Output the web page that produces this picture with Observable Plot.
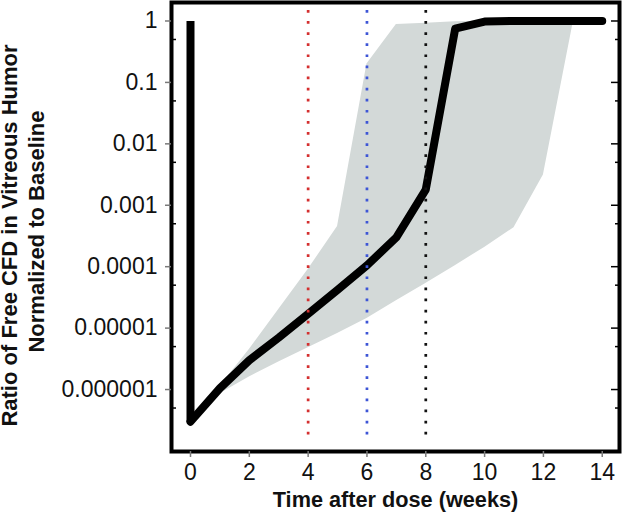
<!DOCTYPE html>
<html>
<head>
<meta charset="utf-8">
<script src="https://cdn.jsdelivr.net/npm/d3@7"></script>
<script src="https://cdn.jsdelivr.net/npm/@observablehq/plot@0.6"></script>
<style>
  html, body { margin: 0; padding: 0; background: #fff; }
  #chart { width: 622px; height: 513px; }
</style>
</head>
<body>
<div id="chart"></div>
<script>
// ---- data ----
const xTicks = [0, 2, 4, 6, 8, 10, 12, 14];
const yTicks = [1e-6, 1e-5, 1e-4, 1e-3, 0.01, 0.1, 1];
const yTickLabels = ["0.000001", "0.00001", "0.0001", "0.001", "0.01", "0.1", "1"];
const yMinorTicks = [5e-7, 5e-6, 5e-5, 5e-4, 5e-3, 0.05, 0.5];

// median ratio (black line)
const lineWeeks = [0, 0, 1, 2, 3, 4, 5, 6, 7, 8, 9, 10, 11, 12, 13, 14];
const lineRatio = [1, 3e-7, 1.05e-6, 3e-6, 7e-6, 1.7e-5, 4.2e-5, 1.05e-4, 3e-4, 1.8e-3, 0.75, 0.98, 1, 1, 1, 1];

// spread band (grey)
const bandWeeks = [1, 2, 3, 4, 5, 6, 7, 8, 9, 10, 11, 12, 13];
const bandLow  = [8.5e-7, 1.6e-6, 2.8e-6, 4.8e-6, 8.2e-6, 1.43e-5, 2.8e-5, 5.3e-5, 1.04e-4, 2.06e-4, 4.3e-4, 3.1e-3, 0.88];
const bandHigh = [1.12e-6, 4.5e-6, 2e-5, 9e-5, 4.5e-4, 0.2, 0.88, 0.92, 0.97, 0.99, 0.99, 0.99, 0.99];

// dotted reference weeks
const markerWeeks = [4, 6, 8];
const markerNames = ["red", "blue", "black"];

const xTitle = "Time after dose (weeks)";
const yTitle1 = "Ratio of Free CFD in Vitreous Humor";
const yTitle2 = "Normalized to Baseline";

// ---- build tables ----
const lineRows = lineWeeks.map((w, i) => ({week: w, ratio: lineRatio[i]}));
const bandRows = bandWeeks.map((w, i) => ({week: w, lo: bandLow[i], hi: bandHigh[i]}));
const markerRows = markerWeeks.map((w, i) => ({week: w, name: markerNames[i]}));
const markerColor = {red: "#d42f2f", blue: "#3d55d6", black: "#111111"};

const font = "'Liberation Sans', Arial, Helvetica, sans-serif";

const chart = Plot.plot({
  width: 622,
  height: 513,
  marginLeft: 171,
  marginRight: 3,
  marginTop: 2,
  marginBottom: 62,
  style: {fontFamily: font, fontSize: "22px", color: "#111", background: "#fff"},
  x: {domain: [-0.646, 14.587], label: null},
  y: {type: "log", domain: [9.8e-8, 2.0], label: null},
  marks: [
    Plot.areaY(bandRows, {x: "week", y1: "lo", y2: "hi", fill: "#d3d9d8"}),
    Plot.line(lineRows.slice(0, 2), {x: "week", y: "ratio", stroke: "#000", strokeWidth: 8, strokeLinecap: "butt", strokeLinejoin: "round"}),
    Plot.line(lineRows.slice(1), {x: "week", y: "ratio", stroke: "#000", strokeWidth: 8, strokeLinecap: "round", strokeLinejoin: "round"}),
    Plot.ruleX(markerRows, {x: "week", stroke: d => markerColor[d.name], strokeWidth: 2.7, strokeDasharray: "2.7 8.4", insetTop: 8, insetBottom: 10}),
    Plot.frame({stroke: "#000", strokeWidth: 4}),
    Plot.axisY(yTicks, {anchor: "left", tickSize: 6, tickPadding: 8, stroke: "#7a7a7a", strokeWidth: 1.5, fill: "#111", fontSize: 23, label: null,
      tickFormat: d => yTickLabels[yTicks.indexOf(d)]}),
    Plot.axisY(yMinorTicks, {anchor: "left", tickSize: -5, stroke: "#000", strokeWidth: 1.5, tickFormat: () => "", label: null}),
    Plot.axisY(yTicks, {anchor: "right", tickSize: -9, stroke: "#000", strokeWidth: 1.5, tickFormat: () => "", label: null}),
    Plot.axisY(yMinorTicks, {anchor: "right", tickSize: -5, stroke: "#000", strokeWidth: 1.5, tickFormat: () => "", label: null}),
    Plot.axisX(xTicks, {anchor: "bottom", tickSize: 6, tickPadding: 6, stroke: "#7a7a7a", strokeWidth: 1.5, fill: "#111", fontSize: 23, label: null}),
    Plot.text([xTitle], {frameAnchor: "bottom", textAnchor: "middle", lineAnchor: "middle", dy: 49, fontWeight: "bold", fontSize: 21.7, fill: "#111"}),
    Plot.text([yTitle1], {frameAnchor: "left", textAnchor: "middle", lineAnchor: "middle", rotate: -90, dx: -161.3, dy: 8.5, fontWeight: "bold", fontSize: 22, fill: "#111"}),
    Plot.text([yTitle2], {frameAnchor: "left", textAnchor: "middle", lineAnchor: "middle", rotate: -90, dx: -134.7, dy: 4.5, fontWeight: "bold", fontSize: 22, fill: "#111"})
  ]
});
document.getElementById("chart").appendChild(chart);
</script>
</body>
</html>
